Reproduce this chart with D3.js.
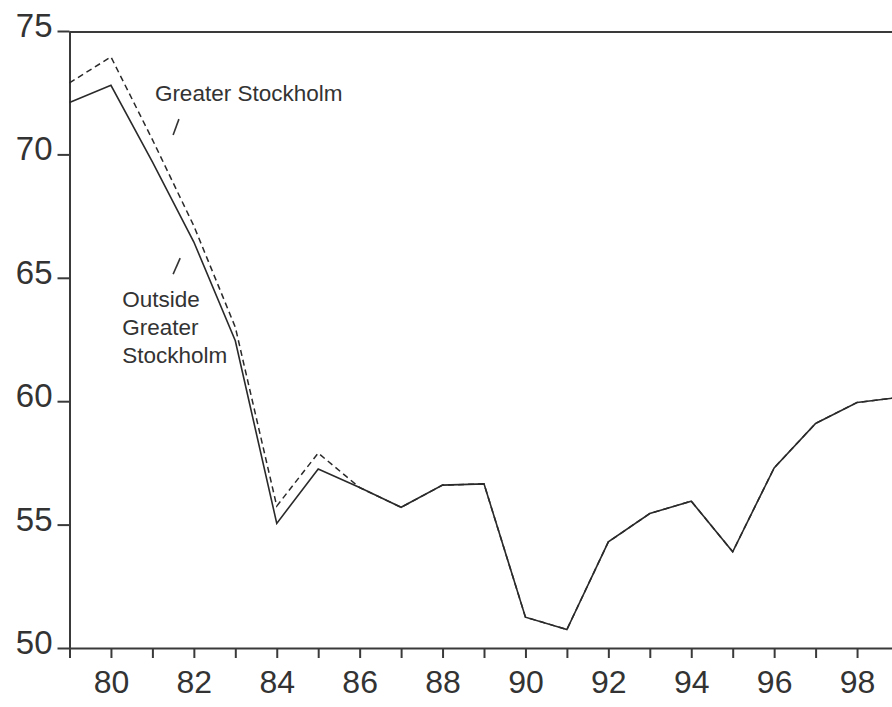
<!DOCTYPE html>
<html>
<head>
<meta charset="utf-8">
<script src="https://cdn.jsdelivr.net/npm/d3@7/dist/d3.min.js"></script>
<style>
  html, body { margin: 0; padding: 0; background: #ffffff; }
  svg { display: block; }
  text { font-family: "Liberation Sans", Arial, Helvetica, sans-serif; fill: #333; }
</style>
</head>
<body>
<svg id="chart" width="892" height="707"></svg>
<script>
// ---- data ----
const years = [79, 80, 81, 82, 83, 84, 85, 86, 87, 88, 89, 90, 91, 92, 93, 94, 95, 96, 97, 98, 99];
const outsideStockholm = [72.1, 72.8, 69.7, 66.45, 62.45, 55.05, 57.25, 56.5, 55.7, 56.6, 56.65, 51.25, 50.75, 54.3, 55.45, 55.95, 53.9, 57.3, 59.1, 59.95, 60.15];
const greaterStockholm = [72.9, 73.95, 70.6, 67.1, 63.0, 55.75, 57.9, 56.5, 55.7, 56.6, 56.65, 51.25, 50.75, 54.3, 55.45, 55.95, 53.9, 57.3, 59.1, 59.95, 60.15];
const yTicks = [50, 55, 60, 65, 70, 75];
const xTickLabels = [80, 82, 84, 86, 88, 90, 92, 94, 96, 98];
const labelGreater = ["Greater Stockholm"];
const labelOutside = ["Outside", "Greater", "Stockholm"];

// ---- layout ----
const svg = d3.select("#chart");
const mLeft = 69.5, mTop = 31, mBottom = 648;
const x = d3.scaleLinear().domain([79, 99]).range([mLeft, mLeft + 20 * 41.45]);
const y = d3.scaleLinear().domain([50, 75]).range([mBottom, mTop]);
const axisColor = "#3a3a3a";

// frame top and right
svg.append("line")
  .attr("x1", x(79)).attr("x2", x(99)).attr("y1", y(75) + 1).attr("y2", y(75) + 1)
  .attr("stroke", axisColor).attr("stroke-width", 2);
svg.append("line")
  .attr("x1", x(99)).attr("x2", x(99)).attr("y1", y(75)).attr("y2", y(50))
  .attr("stroke", axisColor).attr("stroke-width", 2);

// y axis
const yAxis = svg.append("g").attr("transform", `translate(${mLeft},0)`)
  .call(d3.axisLeft(y).tickValues(yTicks).tickSize(12).tickSizeOuter(0).tickPadding(5).tickFormat(d3.format("d")));
yAxis.selectAll("path, line").attr("stroke", axisColor).attr("stroke-width", 2);
yAxis.selectAll("text").attr("font-size", 33).attr("y", -5).attr("fill", "#333")
  .style("font-family", '"Liberation Sans", Arial, sans-serif');

// x axis
const xAxis = svg.append("g").attr("transform", `translate(0,${mBottom})`)
  .call(d3.axisBottom(x).tickValues(years).tickSize(10).tickSizeOuter(0).tickPadding(12)
    .tickFormat(d => xTickLabels.includes(d) ? d : ""));
xAxis.selectAll("path, line").attr("stroke", axisColor).attr("stroke-width", 2);
xAxis.selectAll("text").attr("font-size", 32).attr("fill", "#333")
  .style("font-family", '"Liberation Sans", Arial, sans-serif');

// lines
const line = d3.line().x((d, i) => x(years[i])).y(d => y(d));
svg.append("path").datum(greaterStockholm)
  .attr("d", line).attr("fill", "none").attr("stroke", "#2a2a2a")
  .attr("stroke-width", 1.5).attr("stroke-dasharray", "6,4");
svg.append("path").datum(outsideStockholm)
  .attr("d", line).attr("fill", "none").attr("stroke", "#2a2a2a")
  .attr("stroke-width", 1.6).attr("stroke-linejoin", "miter");

// annotations
svg.append("text").attr("x", x(81.06)).attr("y", y(72.18))
  .attr("font-size", 22.5).text(labelGreater[0]);
svg.append("line")
  .attr("x1", x(81.5)).attr("y1", y(70.79)).attr("x2", x(81.64)).attr("y2", y(71.43))
  .attr("stroke", "#333").attr("stroke-width", 1.6);

const outT = svg.append("text").attr("x", x(80.27)).attr("y", y(63.8)).attr("font-size", 22.5);
labelOutside.forEach((s, i) => {
  outT.append("tspan").attr("x", x(80.27)).attr("dy", i === 0 ? 0 : 28).text(s);
});
svg.append("line")
  .attr("x1", x(81.5)).attr("y1", y(65.15)).attr("x2", x(81.67)).attr("y2", y(65.8))
  .attr("stroke", "#333").attr("stroke-width", 1.6);
</script>
</body>
</html>
